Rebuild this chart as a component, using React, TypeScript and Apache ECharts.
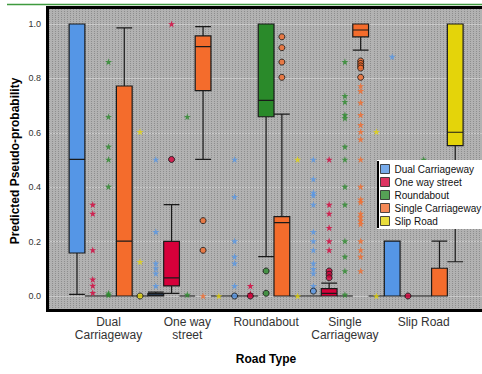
import React, { useEffect, useRef } from 'react';
import * as echarts from 'echarts';

const FONT = '"Liberation Sans", Arial, sans-serif';

const groupLabels = ['Dual\nCarriageway', 'One way\nstreet', 'Roundabout', 'Single\nCarriageway', 'Slip Road'];
const seriesNames = ['Dual Carriageway', 'One way street', 'Roundabout', 'Single Carriageway', 'Slip Road'];
const seriesColors = ['#5596e6', '#d6003a', '#2a8a2a', '#f46c2c', '#e4d40a'];

// [min, Q1, median, Q3, max] per road-type group (x categories)
const dualBoxes = [
  [0.006, 0.158, 0.502, 1.0, 1.0],
  [0, 0, 0.003, 0.009, 0.014],
  [0, 0, 0, 0, 0],
  [0, 0, 0, 0, 0],
  [0, 0, 0, 0.202, 0.202],
];
const oneWayBoxes = [
  [0, 0, 0, 0, 0],
  [0.01, 0.037, 0.067, 0.201, 0.336],
  [0, 0, 0, 0, 0],
  [0, 0, 0.01, 0.027, 0.047],
  [0, 0, 0, 0, 0],
];
const roundaboutBoxes = [
  [0, 0, 0, 0, 0],
  [0, 0, 0, 0, 0],
  [0.145, 0.659, 0.719, 1.0, 1.0],
  [0, 0, 0, 0, 0],
  [0, 0, 0, 0, 0],
];
const singleBoxes = [
  [0, 0, 0.202, 0.772, 0.986],
  [0.502, 0.755, 0.917, 0.956, 0.99],
  [0, 0, 0.27, 0.292, 0.669],
  [0.904, 0.953, 0.978, 1.0, 1.0],
  [0, 0, 0, 0.102, 0.202],
];
const slipBoxes = [
  [0, 0, 0, 0, 0],
  [0, 0, 0, 0, 0],
  [0, 0, 0, 0, 0],
  [0, 0, 0, 0, 0],
  [0.126, 0.553, 0.602, 1.0, 1.0],
];

// Extreme outliers (stars) per group
const dualStars = [
  [],
  [0.502, 0.236, 0.12, 0.102, 0.083, 0.037],
  [0.502, 0.365, 0.202, 0.145, 0.12, 0.037],
  [0.502, 0.43, 0.38, 0.37, 0.336, 0.236, 0.202, 0.169, 0.12, 0.1, 0.083, 0.037],
  [0.88],
];
const oneWayStars = [
  [0.336, 0.303, 0.169, 0.061, 0.038, 0.012],
  [1.0],
  [0.037, 0.008],
  [0.502, 0.336, 0.303, 0.251, 0.202, 0.169],
  [],
];
const roundaboutStars = [
  [0.861, 0.659, 0.549, 0.502, 0.402, 0.01, 0.004],
  [0.659, 0.005],
  [],
  [0.861, 0.736, 0.714, 0.666, 0.654, 0.549, 0.502, 0.402, 0.336, 0.202, 0.145, 0.092, 0.005],
  [0.502],
];
const singleStars = [
  [],
  [0.0],
  [],
  [0.772, 0.754, 0.711, 0.666, 0.629, 0.604, 0.576, 0.502, 0.402, 0.355, 0.345, 0.303, 0.29, 0.277, 0.265, 0.202, 0.169, 0.145, 0.092],
  [],
];
const slipStars = [
  [0.604, 0.126],
  [0.0],
  [0.502, 0.0],
  [0.604, 0.0],
  [],
];

// Outliers (circles) per group
const dualCircles = [[], [], [0.0], [0.018], []];
const oneWayCircles = [[], [0.502], [0.0], [0.092, 0.08, 0.067], [0.0]];
const roundaboutCircles = [[], [], [0.092, 0.01], [], []];
const singleCircles = [[], [0.277, 0.168], [0.953, 0.913, 0.86, 0.804], [0.864, 0.855, 0.846, 0.838, 0.804], []];
const slipCircles = [[0.0], [], [], [], []];

const yTicks = [0, 0.2, 0.4, 0.6, 0.8, 1.0];

const STAR =
  'path://M0,-1L0.2245,-0.309L0.951,-0.309L0.363,0.118L0.588,0.809L0,0.382L-0.588,0.809L-0.363,0.118L-0.951,-0.309L-0.2245,-0.309Z';

export default function App() {
  const ref = useRef<HTMLDivElement>(null);

  useEffect(() => {
    if (!ref.current) return;
    const chart = echarts.init(ref.current, undefined, { renderer: 'svg' });

    const boxesBySeries = [dualBoxes, oneWayBoxes, roundaboutBoxes, singleBoxes, slipBoxes];
    const starsBySeries = [dualStars, oneWayStars, roundaboutStars, singleStars, slipStars];
    const circlesBySeries = [dualCircles, oneWayCircles, roundaboutCircles, singleCircles, slipCircles];
    const nS = seriesNames.length;

    const slotCats: string[] = [];
    const boxData: any[] = [];
    groupLabels.forEach((_, g) => {
      seriesNames.forEach((_, s) => {
        slotCats.push(g + '-' + s);
        boxData.push({
          value: boxesBySeries[s][g],
          itemStyle: { color: seriesColors[s], borderColor: '#1a1a1a', borderWidth: 1.2 },
        });
      });
    });

    const scatterSeries = seriesNames.map((name, s) => {
      const data: any[] = [];
      groupLabels.forEach((_, g) => {
        const idx = g * nS + s;
        starsBySeries[s][g].forEach((v) =>
          data.push({ value: [idx, v], symbol: STAR, symbolSize: 7, itemStyle: { color: seriesColors[s], borderWidth: 0 } })
        );
        circlesBySeries[s][g].forEach((v) =>
          data.push({
            value: [idx, v],
            symbol: 'circle',
            symbolSize: 6,
            itemStyle: { color: seriesColors[s], borderColor: '#111', borderWidth: 1 },
          })
        );
      });
      return {
        name,
        type: 'scatter',
        xAxisIndex: 2,
        yAxisIndex: 2,
        itemStyle: { color: seriesColors[s] },
        data,
        z: 3,
      };
    });

    const option: any = {
      animation: false,
      textStyle: { fontFamily: FONT },
      grid: [
        { left: 49, top: 9, right: 0, bottom: 64, show: true, backgroundColor: '#b2b2b2', borderWidth: 0 },
        { left: 49, top: 24, right: 0, bottom: 78 },
        { left: 69.12, top: 24, right: 18.9, bottom: 78 },
      ],
      xAxis: [
        {
          gridIndex: 0,
          type: 'value',
          min: 0,
          max: 144,
          interval: 1,
          axisLabel: { show: false },
          axisTick: { show: false },
          axisLine: { show: false },
          splitLine: { show: true, lineStyle: { color: '#8e8e8e', width: 1, type: [1, 1] } },
        },
        { gridIndex: 1, type: 'value', show: false },
        { gridIndex: 2, type: 'category', data: slotCats, show: false, position: 'top' },
        {
          gridIndex: 2,
          type: 'category',
          data: groupLabels,
          position: 'bottom',
          axisLine: { show: false },
          axisTick: { show: false },
          axisLabel: { fontSize: 12, color: '#333', lineHeight: 12.5, margin: 20, interval: 0, fontFamily: FONT },
        },
      ],
      yAxis: [
        { gridIndex: 0, type: 'value', show: false },
        {
          gridIndex: 1,
          type: 'value',
          min: yTicks[0],
          max: yTicks[yTicks.length - 1],
          interval: 0.2,
          axisLine: { show: false },
          axisTick: { show: false },
          axisLabel: { formatter: (v: number) => v.toFixed(1), fontSize: 9, color: '#333', margin: 8, fontFamily: FONT },
          splitLine: { show: true, lineStyle: { color: '#c9c9c9', width: 1 } },
        },
        { gridIndex: 2, type: 'value', min: 0, max: 1, show: false },
      ],
      legend: {
        orient: 'vertical',
        left: 377,
        top: 160,
        padding: [4, 12, 3, 3],
        itemWidth: 9,
        itemHeight: 9,
        itemGap: 3,
        backgroundColor: '#ffffff',
        borderWidth: 0,
        icon: 'rect',
        itemStyle: { borderColor: '#222', borderWidth: 1 },
        textStyle: { fontSize: 10, color: '#111', fontFamily: FONT },
        selectedMode: false,
        data: seriesNames,
        z: 10,
      },
      graphic: [
        {
          type: 'line',
          shape: { x1: 7, y1: 4.5, x2: 482, y2: 4.5 },
          style: { stroke: '#3f9a3f', lineWidth: 1.5 },
          z: 100,
        },
        {
          type: 'rect',
          shape: { x: 47.5, y: 7.5, width: 440, height: 303 },
          style: { fill: 'none', stroke: '#000', lineWidth: 3 },
          z: 100,
        },
        {
          type: 'line',
          shape: { x1: 378, y1: 161, x2: 378, y2: 228 },
          style: { stroke: '#000', lineWidth: 2 },
          z: 100,
        },
        {
          type: 'text',
          x: 15,
          y: 161,
          rotation: Math.PI / 2,
          style: {
            text: 'Predicted Pseudo-probability',
            font: 'bold 12px ' + FONT,
            fill: '#000',
            align: 'center',
            verticalAlign: 'middle',
          },
          z: 100,
        },
        {
          type: 'text',
          x: 266,
          y: 359,
          style: {
            text: 'Road Type',
            font: 'bold 12px ' + FONT,
            fill: '#000',
            align: 'center',
            verticalAlign: 'middle',
          },
          z: 100,
        },
      ],
      series: [
        {
          name: 'boxes',
          type: 'boxplot',
          xAxisIndex: 2,
          yAxisIndex: 2,
          boxWidth: ['100%', '100%'],
          data: boxData,
          z: 2,
        },
        ...scatterSeries,
      ],
    };

    chart.setOption(option);
    return () => chart.dispose();
  }, []);

  return <div ref={ref} style={{ position: 'absolute', left: 0, top: 0, width: 482, height: 374 }} />;
}
